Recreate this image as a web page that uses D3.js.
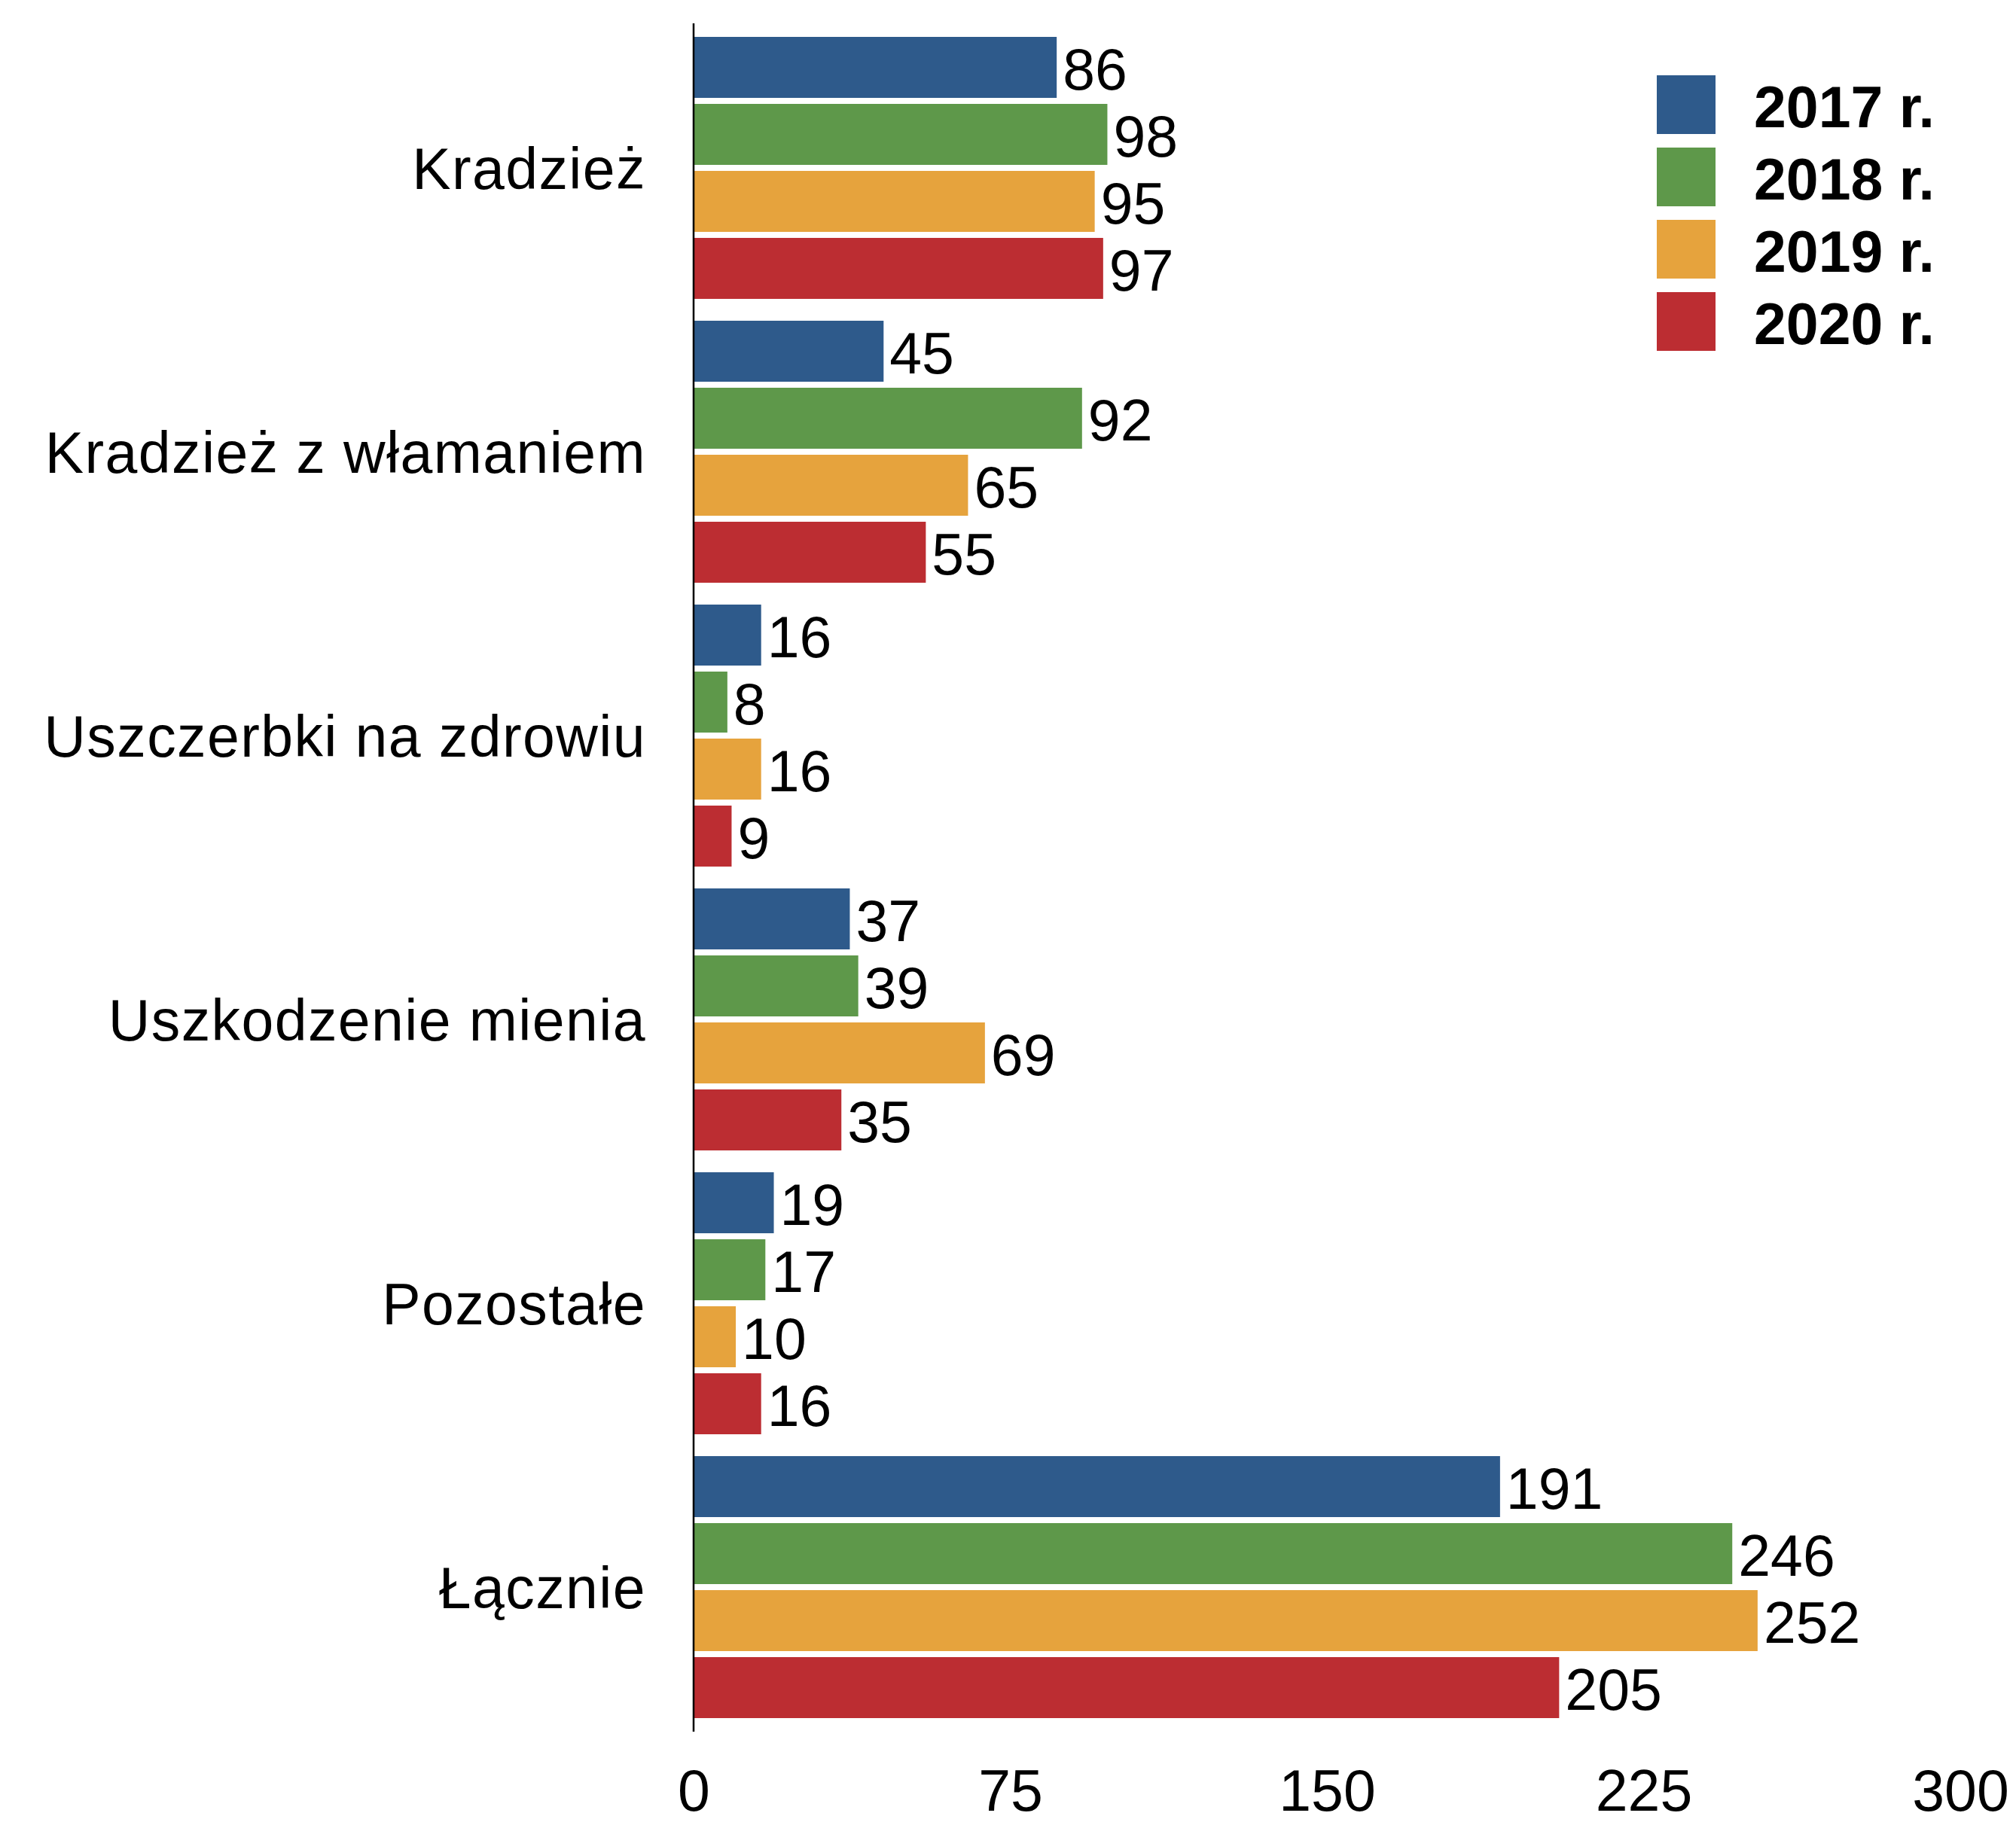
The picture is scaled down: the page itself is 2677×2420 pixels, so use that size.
<!DOCTYPE html>
<html>
<head>
<meta charset="utf-8">
<script src="https://cdn.jsdelivr.net/npm/d3@7"></script>
<style>
  html, body { margin: 0; padding: 0; background: #fff; }
  svg { display: block; }
  text { font-family: "Liberation Sans", Arial, Helvetica, sans-serif; fill: #000; }
</style>
</head>
<body>
<svg id="chart" width="2677" height="2420"></svg>
<script>
const categories = ["Kradzież", "Kradzież z włamaniem", "Uszczerbki na zdrowiu", "Uszkodzenie mienia", "Pozostałe", "Łącznie"];
const seriesNames = ["2017 r.", "2018 r.", "2019 r.", "2020 r."];
const seriesColors = ["#2e5a8b", "#5e984a", "#e6a33d", "#bc2d32"];
const values2017 = [86, 45, 16, 37, 19, 191];
const values2018 = [98, 92, 8, 39, 17, 246];
const values2019 = [95, 65, 16, 69, 10, 252];
const values2020 = [97, 55, 9, 35, 16, 205];
const xTicks = [0, 75, 150, 225, 300];

const seriesValues = [values2017, values2018, values2019, values2020];

const svg = d3.select("#chart");
svg.append("rect").attr("width", 2677).attr("height", 2420).attr("fill", "#fff");

const x = d3.scaleLinear().domain([0, 300]).range([921, 2603]);
const y0 = d3.scaleBand().domain(categories).range([49, 2282]).paddingInner(0.077).paddingOuter(0);
const y1 = d3.scaleBand().domain(seriesNames).range([0, y0.bandwidth()]).paddingInner(0.09).paddingOuter(0);

const fontSize = 77;
const capShift = fontSize * 0.36;

// bars
const groups = svg.append("g").selectAll("g")
  .data(categories)
  .join("g")
  .attr("transform", c => `translate(0,${y0(c)})`);

groups.selectAll("rect")
  .data((c, ci) => seriesNames.map((s, si) => ({ s, si, v: seriesValues[si][ci] })))
  .join("rect")
  .attr("x", x(0))
  .attr("y", d => y1(d.s))
  .attr("width", d => x(d.v) - x(0))
  .attr("height", y1.bandwidth())
  .attr("fill", d => seriesColors[d.si]);

groups.selectAll("text.val")
  .data((c, ci) => seriesNames.map((s, si) => ({ s, si, v: seriesValues[si][ci] })))
  .join("text")
  .attr("class", "val")
  .attr("x", d => x(d.v) + 8)
  .attr("y", d => y1(d.s) + y1.bandwidth() / 2 + capShift + 2)
  .attr("font-size", fontSize)
  .text(d => d.v);

// category labels
svg.append("g").selectAll("text")
  .data(categories)
  .join("text")
  .attr("x", 858)
  .attr("y", c => y0(c) + y0.bandwidth() / 2 + capShift)
  .attr("text-anchor", "end")
  .attr("font-size", fontSize)
  .attr("letter-spacing", 1.4)
  .text(c => c);

// vertical axis line
svg.append("line")
  .attr("x1", x(0)).attr("x2", x(0))
  .attr("y1", 31).attr("y2", 2300)
  .attr("stroke", "#000").attr("stroke-width", 2.5);

// x axis tick labels
const xAxis = d3.axisBottom(x).tickValues(xTicks).tickSize(0).tickPadding(0);
const gx = svg.append("g").attr("transform", "translate(0,2350)").call(xAxis);
gx.select(".domain").remove();
gx.selectAll("text")
  .attr("font-size", fontSize)
  .attr("font-family", '"Liberation Sans", Arial, Helvetica, sans-serif')
  .attr("fill", "#000")
  .attr("dy", "0.72em");

// legend
const legend = svg.append("g").selectAll("g")
  .data(seriesNames)
  .join("g")
  .attr("transform", (s, i) => `translate(2200,${100 + i * 96})`);
legend.append("rect")
  .attr("width", 78).attr("height", 78)
  .attr("fill", (s, i) => seriesColors[i]);
legend.append("text")
  .attr("x", 129)
  .attr("y", 69)
  .attr("font-size", fontSize)
  .attr("font-weight", "bold")
  .text(s => s);
</script>
</body>
</html>
